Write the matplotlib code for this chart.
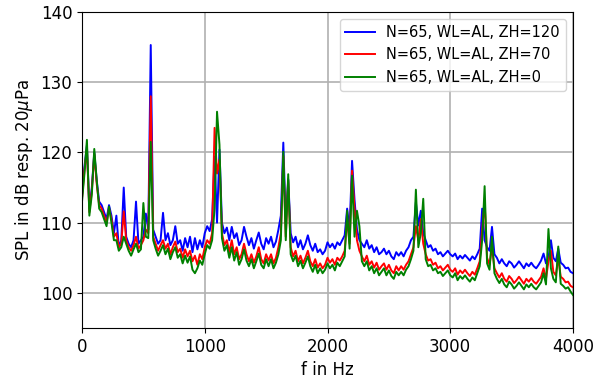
import numpy as np
from matplotlib import pyplot as plt

# frequency grid, 20 Hz steps
freq = np.arange(0, 4001, 20)

# SPL values (dB)
spl_zh120 = [
    114, 118, 121, 112, 115, 120, 116, 113, 112.5, 111.5,
    110.5, 112.5, 111, 108.5, 111, 106.5, 107.5, 115, 108, 107,
    106.5, 107.5, 113, 107, 107.5, 108, 111.3, 109, 135.3, 109,
    108, 107, 107.5, 111.4, 107.5, 108.5, 106.8, 107.5, 109.5, 107,
    107.5, 106, 107.8, 106.5, 108, 105.8, 107.8, 106.2, 107.5, 106.5,
    108.5, 109.5, 108.8, 110.5, 119.4, 110, 120.4, 110, 108.5, 109.3,
    107.5, 109.4, 107.8, 108.5, 106.8, 107.5, 109.4, 108, 106.8, 107.8,
    106.3, 107.5, 108.6, 107, 106.2, 107.8, 107, 108, 106.5, 107.3,
    109, 111, 121.4, 110, 116.2, 108.5, 107.2, 108, 106.5, 107.5,
    106.2, 107, 108.2, 106.8, 106, 107, 105.8, 106.2, 105.5, 106,
    107.2, 106.5, 107, 106.3, 107.2, 106.8, 107.5, 108.2, 112, 109,
    118.8, 113.3, 109, 107.5, 107, 106.5, 107.5, 106.3, 106.8, 105.8,
    106.5, 105.5, 105.8, 106.3, 105.5, 106, 105.2, 104.8, 105.8, 105.3,
    105.8, 105.2, 106, 106.5, 107.5, 108, 112.9, 109.6, 111.7, 108.5,
    107.5, 106.5, 106.8, 106, 106.3, 105.5, 105.8, 105.2, 105.6, 106,
    105.5, 105.2, 105.6, 104.8, 105.3, 104.9, 105.4, 105, 104.6, 105.2,
    104.8, 105.5, 106.3, 112, 107.5, 106.5, 106, 109.4, 105.5, 105,
    104.2, 104.8, 104.2, 103.8, 104.5, 104.2, 103.6, 104, 104.5, 104,
    103.5, 104.2, 103.8, 104.3, 103.8, 103.5, 104, 104.6, 105.6, 104.2,
    105, 107.5, 105, 104.5, 106.3, 104.3, 104, 103.5, 103.6, 103,
    102.8]

spl_zh70 = [
    113.5, 117.5, 120.5, 111.5, 114.5, 119.8, 115.5, 112.5, 112, 111,
    110, 112, 110.5, 108, 108.5, 106.5, 107, 111.6, 107.5, 106.5,
    106, 106.8, 108, 106.3, 106.8, 107.5, 109, 108.5, 128, 108,
    107, 106, 106.8, 107.5, 106.3, 107, 105.5, 106.5, 107.3, 105.8,
    106.3, 105, 106.2, 105.2, 106, 104.5, 105.3, 104, 105.5, 104.8,
    106.5, 107.5, 107, 108.5, 123.5, 117, 119, 108.5, 106.8, 107.5,
    105.8, 107.5, 105.5, 106.5, 104.8, 105.5, 107, 105.5, 104.5, 105.5,
    104.3, 105.2, 106.5, 104.8, 104.2, 105.5, 104.6, 105.5, 104.2, 105,
    106.5, 108.5, 119.5, 108, 116, 106.5, 105.2, 106, 104.5, 105.3,
    104.2, 105, 106, 104.5, 103.8, 104.8, 103.6, 104.2, 103.5, 104,
    105, 104.3, 104.8, 104, 105, 104.6, 105.2, 106, 110.5, 107,
    117.4, 112, 107.5, 106, 105.2, 104.5, 105.3, 104, 104.5, 103.6,
    104.3, 103.3, 103.8, 104.2, 103.3, 104, 103.2, 102.8, 103.8, 103.2,
    103.8, 103.3, 104, 104.5, 105.5, 106.5, 109.5, 107.5, 110.5, 107,
    105.5, 104.6, 104.8, 104, 104.3, 103.5, 103.8, 103.2, 103.6, 104,
    103.3, 103, 103.5, 102.6, 103.2, 102.8, 103.3, 102.8, 102.4, 103,
    102.6, 103.5, 104.5, 109, 113, 105, 104, 106.5, 103.5, 102.8,
    102.2, 102.8, 102, 101.6, 102.4, 102, 101.4, 101.8, 102.3, 101.8,
    101.3, 102, 101.6, 102.1, 101.6, 101.3, 101.8, 102.3, 103.5, 102,
    104.5, 106, 103, 102.5, 105, 102.3, 102, 101.5, 101.6, 101,
    100.8]

spl_zh0 = [
    113, 117, 121.8, 111, 114, 120.5, 116, 112, 111.5, 110.5,
    109.5, 112.3, 110, 107.5, 107.5, 106, 106.5, 108, 107, 106,
    105.3, 106.2, 107, 105.8, 106.2, 112.8, 108, 107.8, 121.5, 107.5,
    106.3, 105.3, 106, 106.8, 105.5, 106.3, 104.8, 105.8, 106.5, 105,
    105.5, 104.2, 105.3, 104.3, 105.2, 103.3, 102.8, 103.5, 104.6, 104,
    105.5, 106.8, 106.3, 107.5, 112, 125.8, 121.1, 107.8, 106, 106.8,
    105, 106.5, 104.6, 105.8, 104, 104.8, 106.2, 104.6, 103.8, 104.8,
    103.5, 104.5, 105.6, 104, 103.5, 104.8, 103.8, 104.8, 103.5, 104.3,
    105.5, 107.5, 120.1, 107.5, 116.9, 105.5, 104.5, 105.3, 103.8, 104.6,
    103.5, 104.3, 105.2, 103.8, 103, 104, 102.8, 103.5, 102.8, 103.3,
    104.2, 103.5, 104, 103.2, 104.3, 103.8, 104.5, 105.2, 111.7, 106.3,
    116.7, 108, 111.7, 109.5, 104.5, 103.8, 104.5, 103.2, 103.8, 102.8,
    103.5, 102.5, 103, 103.5, 102.5, 103.2, 102.4, 102, 103, 102.5,
    103, 102.5, 103.3, 103.8, 104.8, 106, 114.7, 106.5, 108.5, 113.4,
    104.8, 103.8, 104, 103.2, 103.5, 102.8, 103, 102.4, 102.8, 103.2,
    102.5, 102.2, 102.8, 101.8, 102.4, 102, 102.5, 102, 101.6, 102.2,
    101.8, 102.8, 103.8, 107.5, 115.2, 104.2, 103.3, 108, 102.8, 102,
    101.4, 102, 101.2, 100.8, 101.6, 101.2, 100.6, 101, 101.5, 101,
    100.5, 101.2, 100.8, 101.3, 100.8, 100.5, 101, 101.5, 102.8, 101.2,
    109.1, 103.5, 102, 101.5, 106.6, 101.3, 101, 100.6, 100.8, 100.2,
    99.7]

labels = ["N=65, WL=AL, ZH=120", "N=65, WL=AL, ZH=70", "N=65, WL=AL, ZH=0"]

fig = plt.figure(figsize=(6.03, 3.8), dpi=100)
fig.subplots_adjust(left=82/603, right=573/603, top=1-12/380, bottom=1-328/380)
ax = fig.gca()

ax.plot(freq, spl_zh120, color="b", linewidth=1.4, label=labels[0])
ax.plot(freq, spl_zh70, color="r", linewidth=1.4, label=labels[1])
ax.plot(freq, spl_zh0, color="g", linewidth=1.4, label=labels[2])

ax.set_xlim(0, 4000)
ax.set_ylim(95, 140)
ax.set_xticks([0, 1000, 2000, 3000, 4000])
ax.set_yticks([100, 110, 120, 130, 140])
ax.grid(True, linewidth=1.2)
ax.tick_params(labelsize=12)
ax.set_xlabel("f in Hz", fontsize=12)
ax.set_ylabel(r"SPL in dB resp. 20$\mu$Pa", fontsize=12)
ax.legend(loc="upper right", fontsize=10.5)

fig.savefig("out.png", dpi=100)
